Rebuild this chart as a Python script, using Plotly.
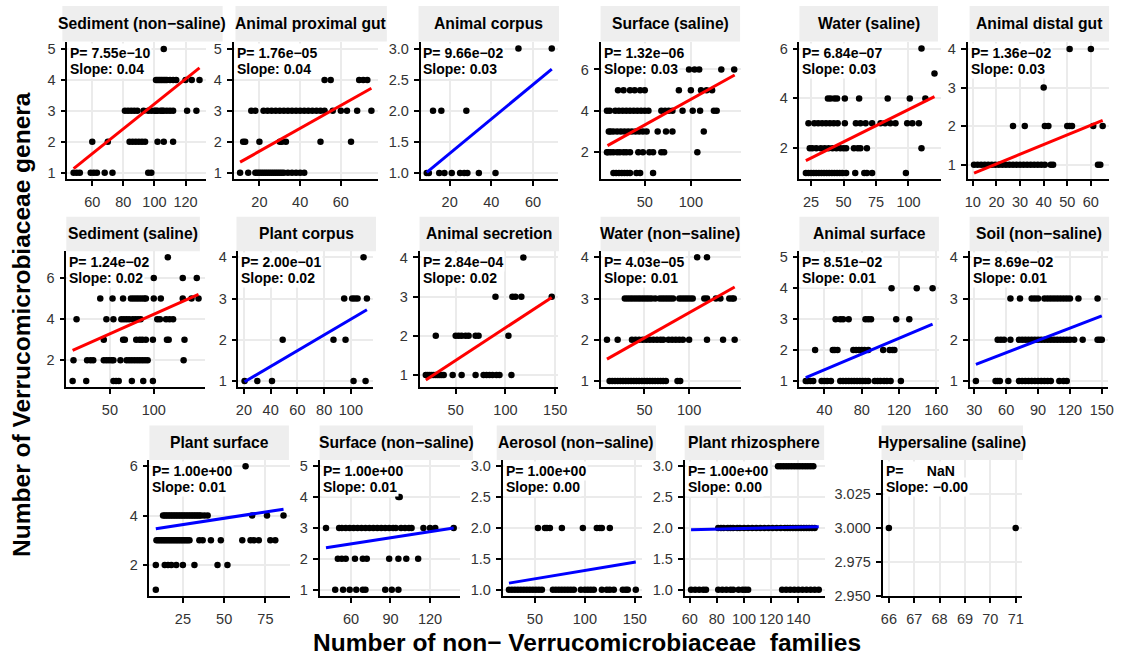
import math
import plotly.graph_objects as go

W, H = 1127, 664

# ---------------- data ----------------
habitats = ["Sediment (non\u2212saline)", "Animal proximal gut", "Animal corpus", "Surface (saline)",
            "Water (saline)", "Animal distal gut",
            "Sediment (saline)", "Plant corpus", "Animal secretion", "Water (non\u2212saline)",
            "Animal surface", "Soil (non\u2212saline)",
            "Plant surface", "Surface (non\u2212saline)", "Aerosol (non\u2212saline)", "Plant rhizosphere",
            "Hypersaline (saline)"]

p_values = [7.55e-10, 1.76e-05, 9.66e-02, 1.32e-06, 6.84e-07, 1.36e-02,
            1.24e-02, 2.00e-01, 2.84e-04, 4.03e-05, 8.51e-02, 8.69e-02,
            1.0, 1.0, 1.0, 1.0, float("nan")]
slopes = [0.04, 0.04, 0.03, 0.03, 0.03, 0.03,
          0.02, 0.02, 0.02, 0.01, 0.01, 0.01,
          0.01, 0.01, 0.00, 0.00, -0.0001]

# points: genera count level -> list of family counts
sediment_nonsaline = {
    5: [106],
    4: [101, 102, 103, 104, 105, 106, 107, 108, 110, 112, 114, 120, 124, 129],
    3: [81, 83, 85, 87, 89, 93, 96, 98, 100, 101, 102, 104, 105, 106, 108, 110, 112, 121, 127],
    2: [60, 70, 84, 86, 88, 90, 92, 94, 102, 106, 112],
    1: [48, 50, 52, 59, 61, 63, 68, 73, 96, 98]}
animal_proximal_gut = {
    4: [52, 55, 69, 71, 73],
    3: [16, 18, 22, 24, 26, 28, 30, 32, 34, 36, 38, 40, 42, 44, 46, 48, 50, 52, 56, 60, 63, 68, 75],
    2: [12, 13, 20, 30, 31, 33, 50, 65],
    1: [10.5, 14.5, 18, 19, 20, 21, 22, 23, 24, 25, 26, 27, 28, 29, 30, 31, 32, 34, 36, 38, 40, 42]}
animal_corpus = {
    3: [53, 69],
    2: [12, 16, 28],
    1: [9, 10, 15, 17.5, 21, 25, 27, 28.5, 34, 42]}
surface_saline = {
    6: [98, 104, 109, 133, 147],
    5: [21, 27, 34, 39, 45, 50, 87, 100, 111, 117, 123],
    4: [9, 12, 18, 22, 26, 30, 34, 38, 42, 46, 50, 54, 68, 72, 76, 80, 91, 102, 110, 125, 128],
    3: [11, 13, 16, 20, 24, 28, 32, 36, 40, 44, 48, 52, 64, 73, 80, 114],
    2: [9, 10, 13, 16, 20, 23, 27, 30, 34, 43, 48, 55, 59, 68, 71, 107],
    1: [16, 19, 22, 25, 28, 31, 34, 41, 45, 59]}
water_saline = {
    6: [110],
    5: [120],
    4: [38, 40, 43, 45, 51, 62, 84, 101, 113],
    3: [23, 27.5, 30.5, 33.5, 36.5, 39.5, 42.5, 45.5, 51, 59.5, 63, 67, 72, 78.5, 82, 86, 90, 99, 103, 108],
    2: [24, 26, 29, 32.5, 35.5, 38.5, 41.5, 44.5, 47.5, 50, 52, 58, 61, 63, 68, 110],
    1: [21, 23, 25, 27, 29, 31, 33, 35, 37, 39, 41, 43, 45, 47, 49, 52, 59, 66, 68, 72, 98]}
animal_distal_gut = {
    4: [51, 60],
    3: [40],
    2: [27, 32, 40.5, 42, 50, 51, 52, 61, 65],
    1: [10.5, 12, 13.5, 15, 16.5, 18, 19.5, 21, 22.5, 24, 25.5, 27, 28.5, 30, 31.5, 33, 34.5, 36,
        37.5, 39, 40.5, 43, 44, 63, 64]}
sediment_saline = {
    7: [116],
    6: [100, 133, 149],
    5: [39, 53, 65, 74, 77, 80, 83, 86, 89, 91, 100, 108, 133, 143, 151],
    4: [12, 46, 54, 63, 66, 69, 72, 76, 79, 82, 85, 104, 107, 114, 118, 122],
    3: [43, 65, 67, 80, 84, 87, 91, 99, 115, 117, 135],
    2: [8.5, 24, 28, 31, 43, 46, 49, 52, 54, 62, 69, 72, 75, 78, 81, 84, 87, 90, 93, 134],
    1: [7.5, 23, 54, 57, 60, 75, 88, 99]}
plant_corpus = {
    4: [109.5],
    3: [95, 101, 103, 105, 112],
    2: [49, 87, 96],
    1: [20.5, 30, 41, 102, 111]}
animal_secretion = {
    4: [118],
    3: [90, 107, 110, 116, 146.5],
    2: [30, 50, 53, 56, 60, 63, 70, 73, 103],
    1: [20, 22, 24, 26, 28, 30, 32, 34, 36, 38, 47, 56, 70, 78, 81, 84, 87, 91, 94, 106]}
water_nonsaline = {
    4: [109, 120],
    3: [28, 31, 34, 37, 40, 43, 46, 49, 52, 55, 58, 62, 67, 70, 73, 76, 79, 82, 89, 92, 95, 98, 101,
        104, 117, 120, 130, 135, 145, 148, 150],
    2: [8, 20, 36, 40, 44, 48, 52, 56, 60, 64, 68, 71, 77, 81, 85, 89, 93, 100, 120, 138, 151],
    1: [11, 14, 17, 20, 23, 26, 29, 32, 35, 38, 41, 44, 47, 50, 53, 56, 59, 62, 65, 68, 71, 74, 87, 90]}
animal_surface = {
    4: [112, 139, 156],
    3: [52, 57, 60, 66, 84, 87, 90, 117, 131],
    2: [30, 49, 51, 54, 71, 74, 77, 80, 83, 87, 103, 110, 113, 115],
    1: [20, 22, 25, 28, 37, 40, 43, 47, 57, 60, 63, 66, 69, 72, 75, 78, 81, 84, 87, 94, 97, 100, 104,
        107, 111, 122]}
soil_nonsaline = {
    3: [64, 73, 84, 87, 90, 96, 99, 102, 105, 108, 111, 114, 117, 120, 128, 146],
    2: [52, 55, 58, 64, 72, 75, 78, 81, 84, 87, 90, 93, 96, 99, 102, 105, 108, 111, 114, 117, 120,
        124, 132, 146, 148, 150],
    1: [31.5, 50, 52, 54, 62, 72, 75, 78, 81, 84, 87, 90, 93, 96, 99, 102, 110, 114, 117]}
plant_surface = {
    6: [63],
    4: [13, 14, 15, 16, 17, 18, 19, 20, 21, 22, 23, 24, 25, 26, 27, 28, 29, 30, 31, 32, 33, 34, 35,
        36, 38, 40, 67, 76, 86],
    3: [9, 10, 11, 12, 13, 14, 15, 16, 17, 18, 19, 20, 21, 22, 23, 24, 25, 26, 27, 28, 29, 35, 37,
        42, 48, 61, 66, 68, 71, 78, 81],
    2: [8.6, 14, 16, 18, 21, 25, 32, 46, 52],
    1: [8.6]}
surface_nonsaline = {
    4: [96, 97],
    3: [41, 51, 53, 56, 59, 62, 65, 68, 71, 74, 77, 80, 83, 86, 89, 92, 94, 98, 101, 104, 106, 115,
        120, 124, 138],
    2: [50, 53, 56, 63, 69, 72, 89, 96, 102, 111],
    1: [48, 54, 59, 64, 69, 71, 86, 91, 96]}
aerosol_nonsaline = {
    2: [53, 60, 62, 65, 77, 98, 112, 115, 117, 125],
    1: [24, 27, 30, 33, 36, 39, 42, 45, 48, 51, 54, 57, 68, 71, 74, 77, 80, 83, 86, 89, 96, 100, 103,
        106, 109, 117, 122, 125, 129, 138, 141, 143, 151]}
plant_rhizosphere = {
    3: [125, 127, 129, 131, 133, 135, 137, 139, 141, 143, 145, 147, 149, 151],
    2: [81, 83, 85, 88, 90, 92, 95, 97, 100, 103, 106, 109, 112, 115, 118, 121, 124, 127, 130, 132,
        134, 136, 138, 140, 142, 144, 146, 148, 150, 152],
    1: [61, 64, 67, 70, 72, 81, 84, 87, 90, 92, 96, 99, 101, 103, 128, 131, 134, 137, 140, 143, 146,
        149, 152, 155]}
hypersaline_saline = {
    3: [66, 71]}

panel_points = [sediment_nonsaline, animal_proximal_gut, animal_corpus, surface_saline,
                water_saline, animal_distal_gut, sediment_saline, plant_corpus, animal_secretion,
                water_nonsaline, animal_surface, soil_nonsaline, plant_surface, surface_nonsaline,
                aerosol_nonsaline, plant_rhizosphere, hypersaline_saline]

# fitted regression lines (start / end)
fit_x_start = [48, 10.5, 9, 9.6, 21, 10.5, 7.5, 20.5, 20, 8, 20, 31.5, 8.6, 41, 24, 61, None]
fit_x_end = [129, 75, 69, 147.5, 120, 65, 151, 112, 146.5, 151, 156, 150, 86, 138, 151, 155, None]
fit_y_start = [1.13, 1.34, 1.01, 2.32, 1.50, 0.78, 2.48, 0.98, 0.87, 1.53, 1.11, 1.40, 3.47, 2.36,
               1.107, 1.973, None]
fit_y_end = [4.39, 3.73, 2.67, 5.73, 4.07, 2.15, 5.20, 2.73, 2.98, 3.28, 2.84, 2.58, 4.26, 3.00,
             1.448, 2.02, None]

x_tick_values = [[60, 80, 100, 120], [20, 40, 60], [20, 40, 60], [50, 100], [25, 50, 75, 100, 125],
                 [10, 20, 30, 40, 50, 60],
                 [50, 100], [20, 40, 60, 80, 100], [50, 100, 150], [50, 100], [40, 80, 120, 160],
                 [30, 60, 90, 120, 150],
                 [25, 50, 75], [60, 90, 120], [50, 100, 150], [60, 80, 100, 120, 140],
                 [66, 67, 68, 69, 70, 71]]
y_tick_values = [[1, 2, 3, 4, 5], [1, 2, 3, 4, 5], [1.0, 1.5, 2.0, 2.5, 3.0], [2, 4, 6], [2, 4, 6],
                 [1, 2, 3, 4],
                 [2, 4, 6], [1, 2, 3, 4], [1, 2, 3, 4], [1, 2, 3, 4], [1, 2, 3, 4, 5], [1, 2, 3, 4],
                 [2, 4, 6], [1, 2, 3, 4, 5], [1.0, 1.5, 2.0, 2.5, 3.0], [1.0, 1.5, 2.0, 2.5, 3.0],
                 [2.950, 2.975, 3.000, 3.025]]
y_tick_decimals = [0, 0, 1, 0, 0, 0, 0, 0, 0, 0, 0, 0, 0, 0, 1, 1, 3]
y_limits = [[0.785, 5.215], [0.785, 5.215], [0.9, 3.1], [0.69, 7.31], [0.75, 6.25], [0.62, 4.17],
            [0.70, 7.30], [0.85, 4.15], [0.69, 4.16], [0.85, 4.15], [0.8, 5.2], [0.85, 4.15],
            [0.75, 6.25], [0.8, 5.2], [0.9, 3.1], [0.9, 3.1], [2.95, 3.05]]

# ---------------- layout geometry (pixels) ----------------
panel_px = [(65, 205), (233, 379), (422, 561), (604, 746), (805, 948), (975, 1118),
            (64, 204), (238, 374), (421, 561), (604, 746), (805, 946), (977, 1117),
            (148, 290), (320, 462), (505, 646), (689, 831), (889, 1030)]
row_of = [0] * 6 + [1] * 6 + [2] * 5
row_px = [(41, 180), (253, 391), (465, 603)]
strip_px = [(60, 222), (235, 388), (420, 562), (604, 745), (805, 945), (977, 1118),
            (64, 199), (236, 377), (421, 562), (604, 745), (805, 946), (977, 1118),
            (148, 289), (320, 475), (499, 660), (689, 830), (888, 1031)]
strip_row_px = [(4, 40), (218, 253), (430, 465)]

FONT = "Liberation Sans"

fig = go.Figure()
layout = {}
shapes = []
annotations = []

axis_common = dict(showline=True, linecolor="black", linewidth=1.6, ticks="outside", ticklen=5,
                   tickwidth=1.5, tickcolor="black", showgrid=True, gridcolor="#EBEBEB",
                   gridwidth=1.6, zeroline=False, fixedrange=True,
                   tickfont=dict(family=FONT, size=14.5, color="#333333"))


def fmt_p(p):
    if isinstance(p, float) and math.isnan(p):
        return "P=" + "\u00a0" * 6 + "NaN"
    return "P=\u00a0" + f"{p:.2e}".replace("-", "\u2212")


def fmt_s(s):
    return "Slope:\u00a0" + f"{s:.2f}".replace("-", "\u2212")


for i in range(17):
    n = i + 1
    sfx = "" if n == 1 else str(n)
    L, R = panel_px[i]
    T, B = row_px[row_of[i]]
    pts = panel_points[i]
    xs = [x for lvl in pts for x in pts[lvl]]
    ys = [lvl for lvl in pts for _ in pts[lvl]]
    allx = list(xs)
    if fit_x_start[i] is not None:
        allx += [fit_x_start[i], fit_x_end[i]]
    lo, hi = min(allx), max(allx)
    pad = 0.05 * (hi - lo)

    fig.add_trace(go.Scatter(x=xs, y=ys, mode="markers",
                             marker=dict(size=6.5, color="black", line=dict(width=0)),
                             xaxis="x" + sfx, yaxis="y" + sfx, showlegend=False,
                             hoverinfo="skip"))
    if fit_x_start[i] is not None:
        color = "#FF0000" if p_values[i] < 0.05 else "#0000FF"
        fig.add_trace(go.Scatter(x=[fit_x_start[i], fit_x_end[i]], y=[fit_y_start[i], fit_y_end[i]],
                                 mode="lines", line=dict(color=color, width=3),
                                 xaxis="x" + sfx, yaxis="y" + sfx, showlegend=False,
                                 hoverinfo="skip"))

    layout["xaxis" + sfx] = dict(domain=[L / W, R / W], range=[lo - pad, hi + pad],
                                 anchor="y" + sfx, tickmode="array", tickvals=x_tick_values[i],
                                 ticktext=[str(v) for v in x_tick_values[i]],
                                 ticklabelstandoff=4, **axis_common)
    d = y_tick_decimals[i]
    layout["yaxis" + sfx] = dict(domain=[1 - B / H, 1 - T / H], range=y_limits[i],
                                 anchor="x" + sfx, tickmode="array", tickvals=y_tick_values[i],
                                 ticktext=[f"{v:.{d}f}" for v in y_tick_values[i]],
                                 ticklabelstandoff=2, **axis_common)

    # strip
    sx0, sx1 = strip_px[i]
    sy0, sy1 = strip_row_px[row_of[i]]
    shapes.append(dict(type="rect", xref="paper", yref="paper", x0=sx0 / W, x1=sx1 / W,
                       y0=1 - sy1 / H, y1=1 - sy0 / H, fillcolor="#EEEEEE",
                       line=dict(width=0), layer="below"))
    annotations.append(dict(xref="paper", yref="paper", x=(sx0 + sx1) / 2 / W,
                            y=1 - (sy0 + sy1) / 2 / H, text="<b>" + habitats[i] + "</b>",
                            showarrow=False, xanchor="center", yanchor="middle",
                            font=dict(family=FONT, size=15.7, color="black")))
    # stats label (white box)
    annotations.append(dict(xref="paper", yref="paper", x=(L + 1) / W, y=1 - (T + 1) / H,
                            text="<b>" + fmt_p(p_values[i]) + "</b>", showarrow=False,
                            xanchor="left", yanchor="top", bgcolor="white", borderpad=1,
                            font=dict(family=FONT, size=14, color="black")))
    annotations.append(dict(xref="paper", yref="paper", x=(L + 1) / W, y=1 - (T + 17) / H,
                            text="<b>" + fmt_s(slopes[i]) + "</b>", showarrow=False,
                            xanchor="left", yanchor="top", bgcolor="white", borderpad=1,
                            font=dict(family=FONT, size=14, color="black")))

annotations.append(dict(xref="paper", yref="paper", x=590 / W, y=1 - 650 / H,
                        text="<b>Number of non\u2212 Verrucomicrobiaceae \u00a0families</b>",
                        showarrow=False, xanchor="center", yanchor="middle",
                        font=dict(family=FONT, size=24.5, color="black")))
annotations.append(dict(xref="paper", yref="paper", x=18 / W, y=1 - 327 / H,
                        text="<b>Number of Verrucomicrobiaceae genera</b>", textangle=-90,
                        showarrow=False, xanchor="center", yanchor="middle",
                        font=dict(family=FONT, size=24.5, color="black")))

fig.update_layout(width=W, height=H, margin=dict(l=0, r=0, t=0, b=0),
                  paper_bgcolor="white", plot_bgcolor="white", showlegend=False,
                  shapes=shapes, annotations=annotations, **layout)

fig.write_html("out.html", config={"displayModeBar": False})
